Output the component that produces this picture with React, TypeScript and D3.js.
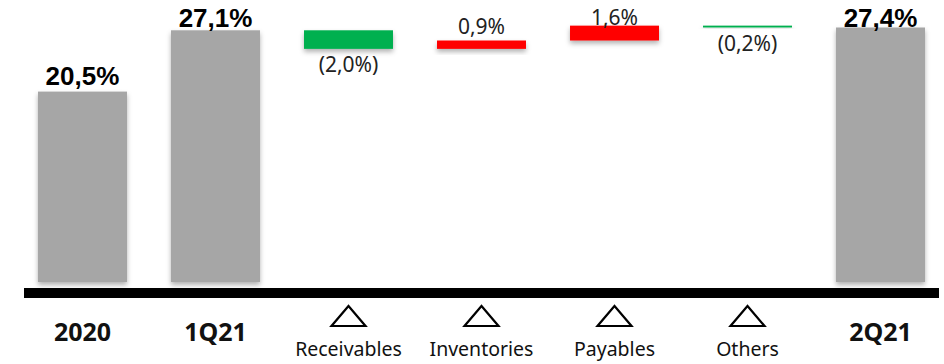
import React from "react";
import * as d3 from "d3";

const categories = ["2020", "1Q21", "Receivables", "Inventories", "Payables", "Others", "2Q21"];
const kinds = ["total", "total", "delta", "delta", "delta", "delta", "total"];
const values = [20.5, 27.1, -2.0, 0.9, 1.6, -0.2, 27.4];
const labels = ["20,5%", "27,1%", "(2,0%)", "0,9%", "1,6%", "(0,2%)", "27,4%"];

const W = 944;
const H = 364;

export default function App() {
  const x = d3.scaleBand<string>().domain(categories).range([38, 925]).paddingInner(0.331).paddingOuter(0);
  const y = d3.scaleLinear().domain([0, 27.4]).range([282, 27.5]);

  let running = 0;
  const bars = categories.map((c, i) => {
    let lo: number, hi: number;
    if (kinds[i] === "total") {
      lo = 0;
      hi = values[i];
      running = values[i];
    } else {
      const start = running;
      const end = running + values[i];
      lo = Math.min(start, end);
      hi = Math.max(start, end);
      running = end;
    }
    return { c, i, lo, hi, kind: kinds[i], v: values[i], label: labels[i] };
  });

  const color = (b: any) => (b.kind === "total" ? "#a6a6a6" : b.v < 0 ? "#00b050" : "#ff0000");

  return (
    <svg width={W} height={H} style={{ position: "absolute", left: 0, top: 0 }}>
      <defs>
        <filter id="sh" x="-10%" y="-30%" width="120%" height="200%">
          <feDropShadow dx="0" dy="3" stdDeviation="2.5" floodColor="#000" floodOpacity="0.3" />
        </filter>
      </defs>
      <rect x={0} y={0} width={W} height={H} fill="#fff" />
      {bars.map((b) => {
        const x0 = x(b.c)!;
        const top = y(b.hi);
        const bot = y(b.lo);
        const cx = x0 + x.bandwidth() / 2;
        let ly: number;
        if (b.kind === "total") ly = Math.max(top - 7, 27);
        else if (b.v > 0) ly = Math.max(top - 7, 25);
        else ly = bot + 23;
        const isTotal = b.kind === "total";
        return (
          <g key={b.c}>
            <rect x={x0} y={top} width={x.bandwidth()} height={Math.max(bot - top, 1)} fill={color(b)} filter="url(#sh)" />
            <text
              x={cx}
              y={ly}
              textAnchor="middle"
              fontFamily={isTotal ? "Liberation Sans, Arial, sans-serif" : "Noto Sans, sans-serif"}
              fontWeight={isTotal ? 700 : 400}
              fontSize={isTotal ? 26 : 21}
              fill={isTotal ? "#000" : "#222"}
            >
              {b.label}
            </text>
            {isTotal ? (
              <text x={cx} y={341} textAnchor="middle" fontFamily="Noto Sans, sans-serif" fontWeight={700} fontSize={25} fill="#111">
                {b.c}
              </text>
            ) : (
              <g>
                <path
                  d={`M${cx},306 L${cx + 17},326 L${cx - 17},326 Z`}
                  fill="none"
                  stroke="#000"
                  strokeWidth={2.2}
                  strokeLinejoin="miter"
                />
                <text x={cx} y={356} textAnchor="middle" fontFamily="Noto Sans, sans-serif" fontSize={19.5} fill="#111">
                  {b.c}
                </text>
              </g>
            )}
          </g>
        );
      })}
      <rect x={24} y={288} width={915} height={10} fill="#000" />
    </svg>
  );
}
